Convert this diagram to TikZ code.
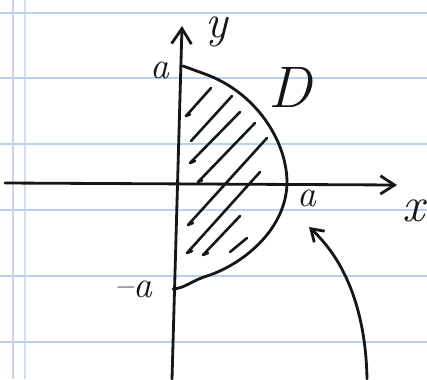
\documentclass[tikz,border=0pt]{standalone}
\usepackage{fontspec}
\usetikzlibrary{arrows.meta}
\definecolor{ruleblue}{RGB}{186,208,240}
\definecolor{marginpink}{RGB}{240,215,220}
\definecolor{ink}{RGB}{22,22,22}

\begin{document}
\begin{tikzpicture}[x=0.03cm, y=-0.03cm,
    pen/.style={draw=ink, line width=2.4pt, line cap=round, line join=round},
    hatch/.style={pen, line width=2.2pt},
    rule/.style={draw=ruleblue, line width=1.3pt},
    hand/.style={inner sep=0pt, text=ink, font=\itshape\fontsize{#1}{#1}\selectfont},
    hand/.default=30,
    barb/.style={-{Straight Barb[length=#1, width=1.3*#1]}},
    barb/.default=11pt
]
    \useasboundingbox[fill=white] (0,0) rectangle (427,379);

    % ruled paper
    \foreach \ry in {13,78,144,210,276,342}
        \draw[rule] (0,\ry) -- (427,\ry);
    \draw[draw=marginpink, line width=1.3pt] (13,0) -- (13,379);
    \draw[rule, opacity=0.6] (13,0) -- (13,379);
    \draw[rule, opacity=0.7] (25,0) -- (25,379);

    % axes
    \coordinate (xl) at (5,183);
    \coordinate (xr) at (397,185);
    \coordinate (yb) at (172,379);
    \coordinate (yt) at (182,26);
    \draw[pen, barb=12pt] (xl) -- (xr);
    \draw[pen, barb=13pt] (yb) -- (yt);

    % region D
    \coordinate (dtop) at (183,66);
    \coordinate (dbot) at (173,289);
    \draw[pen] (dtop) -- (205,74) .. controls (255,92) and (287,140) .. (287,183)
        .. controls (286,228) and (246,262) .. (210,275)
        .. controls (190,281) and (186,288) .. (dbot);

    % hatching
    \foreach \xa/\ya/\xb/\yb/\hk in {186/116/211/88/4, 191/141/232/96/0,
        190/163/240/112/5, 198/182/255/123/4, 188/225/267/138/5,
        187/253/260/172/5, 203/255/240/216/5, 230/252/247/238/0}
        \draw[hatch] (\xa+\hk,\ya-0.4*\hk) -- (\xa,\ya) -- (\xb,\yb);

    % labels
    \node[hand=40] (ylab) at (217,32) {y};
    \node[hand=50] (dlab) at (290,87) {D};
    \node[hand=42] (xlab) at (414,211) {x};
    \node[hand=32] (atop) at (160,70) {a};
    \node[hand=32] (aright) at (307,198) {a};
    \node[hand=32] (abot) at (133,289) {\textendash a};

    % pointer
    \coordinate (tail) at (367,379);
    \coordinate (tip) at (309,227);
    \draw[pen, barb=10pt] (tail) .. controls (366,320) and (350,265) .. (tip);
\end{tikzpicture}
\end{document}
